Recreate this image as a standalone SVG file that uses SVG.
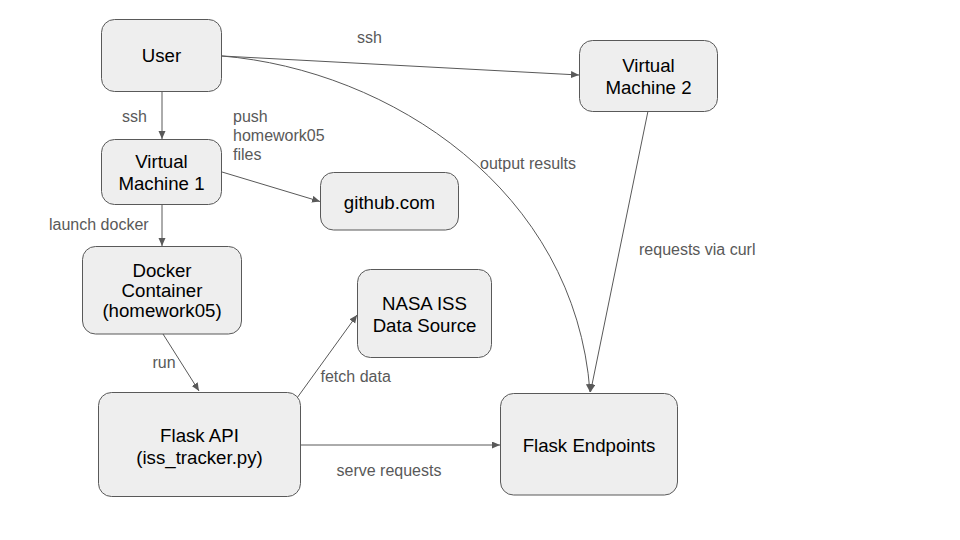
<svg xmlns="http://www.w3.org/2000/svg" width="960" height="540" viewBox="0 0 960 540">
<defs>
<style>
.node rect{fill:#eeeeee;stroke:#595959;stroke-width:1}
.node text{font-family:"Liberation Sans",Arial,sans-serif;font-size:18.67px;fill:#000000;text-anchor:middle}
.edge{fill:none;stroke:#595959;stroke-width:1;marker-end:url(#arr)}
.lbl{font-family:"Liberation Sans",Arial,sans-serif;font-size:16px;fill:#595959}
</style>
<marker id="arr" markerUnits="userSpaceOnUse" markerWidth="9" markerHeight="8" refX="8" refY="3.5" orient="auto">
<path d="M0,0 L8,3.5 L0,7 z" fill="#595959"/>
</marker>
</defs>
<rect width="960" height="540" fill="#ffffff"/>
<g id="connectors">
<line class="edge" x1="162" y1="91" x2="162" y2="139"/>
<line class="edge" x1="162" y1="205" x2="162" y2="246"/>
<line class="edge" x1="163" y1="334" x2="199" y2="391"/>
<line class="edge" x1="222" y1="172" x2="320" y2="201.5"/>
<line class="edge" x1="297" y1="398" x2="357" y2="315"/>
<line class="edge" x1="300" y1="445" x2="500" y2="445"/>
<line class="edge" x1="222" y1="56" x2="579" y2="75"/>
<path class="edge" d="M222,56 C390,70 575,190 590,392"/>
<line class="edge" x1="648" y1="111" x2="590.5" y2="392"/>
<text class="lbl" x="357" y="43">ssh</text>
<text class="lbl" x="122" y="121.7">ssh</text>
<text class="lbl" x="233" y="121.5">push</text>
<text class="lbl" x="233" y="140.8">homework05</text>
<text class="lbl" x="233" y="160">files</text>
<text class="lbl" x="49" y="230">launch docker</text>
<text class="lbl" x="152.5" y="368">run</text>
<text class="lbl" x="320.5" y="381.7">fetch data</text>
<text class="lbl" x="336.5" y="475.5">serve requests</text>
<text class="lbl" x="480" y="168.5">output results</text>
<text class="lbl" x="639" y="255">requests via curl</text>
</g>
<g id="user" class="node">
<rect x="101.5" y="19.5" width="120" height="72" rx="13"/>
<text x="161.5" y="62">User</text>
</g>
<g id="vm1" class="node">
<rect x="101.5" y="139.5" width="120" height="65" rx="13"/>
<text x="161.5" y="168.3">Virtual</text>
<text x="161.5" y="190">Machine 1</text>
</g>
<g id="github" class="node">
<rect x="320.5" y="172.5" width="138" height="57.5" rx="13"/>
<text x="389.5" y="208.5">github.com</text>
</g>
<g id="vm2" class="node">
<rect x="579.5" y="40.5" width="138" height="71" rx="13"/>
<text x="648.5" y="71.7">Virtual</text>
<text x="648.5" y="94">Machine 2</text>
</g>
<g id="docker" class="node">
<rect x="82.5" y="246.5" width="159" height="87.5" rx="13"/>
<text x="162" y="276.6">Docker</text>
<text x="162" y="297">Container</text>
<text x="162" y="317.4">(homework05)</text>
</g>
<g id="nasa" class="node">
<rect x="357.5" y="269.5" width="134" height="88" rx="13"/>
<text x="424.5" y="309.5">NASA ISS</text>
<text x="424.5" y="331.5">Data Source</text>
</g>
<g id="flaskapi" class="node">
<rect x="98.5" y="392.5" width="202" height="104" rx="13"/>
<text x="199.5" y="441.7">Flask API</text>
<text x="199.5" y="463.5">(iss_tracker.py)</text>
</g>
<g id="endpoints" class="node">
<rect x="500.5" y="393.5" width="177" height="101.5" rx="13"/>
<text x="589" y="451.5">Flask Endpoints</text>
</g>
</svg>
